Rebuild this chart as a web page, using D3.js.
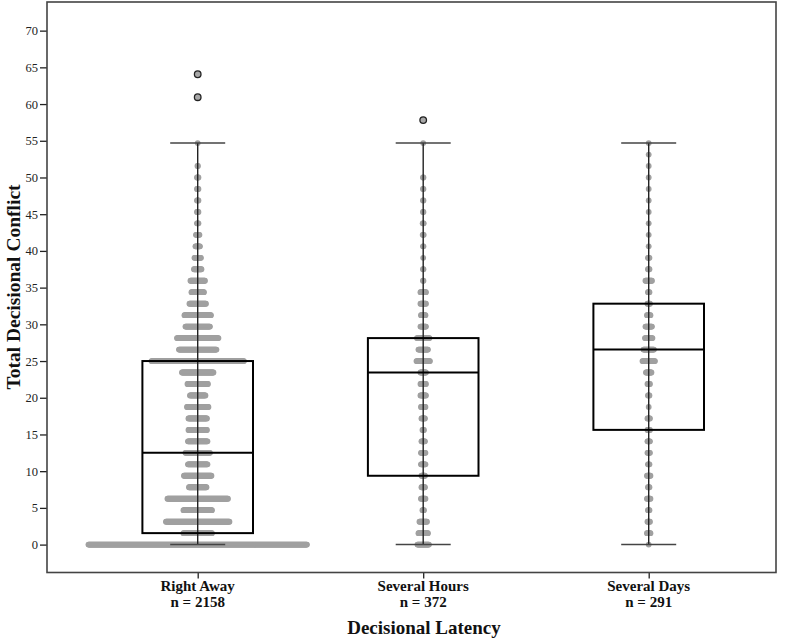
<!DOCTYPE html>
<html><head><meta charset="utf-8">
<script src="https://cdn.jsdelivr.net/npm/d3@7/dist/d3.min.js"></script>
<style>body{margin:0;background:#fff}svg{display:block}</style>
</head><body>
<svg id="c" width="800" height="642"></svg>
<script>
const categories = ["Right Away", "Several Hours", "Several Days"];
const nLabels = ["n = 2158", "n = 372", "n = 291"];
const yTicks = [0, 5, 10, 15, 20, 25, 30, 35, 40, 45, 50, 55, 60, 65, 70];
// score levels (steps of the scale)
const levels = [0, 1.5625, 3.125, 4.6875, 6.25, 7.8125, 9.375, 10.9375, 12.5, 14.0625,
  15.625, 17.1875, 18.75, 20.3125, 21.875, 23.4375, 25, 26.5625, 28.125, 29.6875,
  31.25, 32.8125, 34.375, 35.9375, 37.5, 39.0625, 40.625, 42.1875, 43.75, 45.3125,
  46.875, 48.4375, 50, 51.5625, 53.125, 54.6875];
// number of cases at each level
const countsRightAway = [438, 58, 128, 58, 122, 36, 56, 40, 50, 40, 38, 38, 44, 32, 42, 64, 186, 76, 84, 50,
  54, 34, 26, 30, 16, 14, 10, 8, 4, 4, 4, 4, 4, 2, 0, 1];
const countsSeveralHours = [24, 20, 16, 4, 10, 8, 8, 10, 10, 8, 4, 8, 10, 12, 12, 12, 28, 20, 26, 12,
  10, 12, 12, 2, 2, 1, 2, 3, 3, 2, 2, 2, 2, 0, 0, 1];
const countsSeveralDays = [1, 8, 6, 4, 8, 4, 8, 4, 6, 6, 6, 6, 1, 4, 6, 12, 26, 22, 16, 14,
  8, 6, 4, 14, 4, 4, 1, 1, 1, 1, 1, 1, 1, 1, 1, 1];
const q1 = [1.5625, 9.375, 15.625];
const medians = [12.5, 23.4375, 26.5625];
const q3 = [25, 28.125, 32.8125];
const whiskerLow = [0, 0, 0];
const whiskerHigh = [54.6875, 54.6875, 54.6875];
const outliers = [[60.9375, 64.0625], [57.8125], []];

(function () {
const counts = [countsRightAway, countsSeveralHours, countsSeveralDays];
const svg = d3.select("#c");
const serif = "'Liberation Serif','Times New Roman',serif";
const pLeft = 47, pRight = 776, pTop = 2, pBottom = 572.5;

const y = d3.scaleLinear().domain([-3.8, 73.9]).range([pBottom, pTop]);
const x = d3.scalePoint().domain(categories).range([197.7, 648.7]);

// y axis
const yAxis = svg.append("g").attr("transform", `translate(${pLeft},0)`)
  .call(d3.axisLeft(y).tickValues(yTicks).tickSize(7).tickPadding(2).tickFormat(d3.format("d")));
yAxis.select(".domain").remove();
yAxis.selectAll("line").attr("stroke", "#222").attr("stroke-width", 1.3);
yAxis.selectAll("text").attr("font-family", serif).attr("font-size", 12.5).attr("fill", "#222");

// x axis
const xAxis = svg.append("g").attr("transform", `translate(0,${pBottom})`)
  .call(d3.axisBottom(x).tickSize(6).tickFormat(""));
xAxis.select(".domain").remove();
xAxis.selectAll("line").attr("stroke", "#222").attr("stroke-width", 1.3);

// frame
svg.append("rect").attr("x", pLeft).attr("y", pTop).attr("width", pRight - pLeft).attr("height", pBottom - pTop)
  .attr("fill", "none").attr("stroke", "#444").attr("stroke-width", 1.6);

// dots
const step = 0.5, r = 2.9;
categories.forEach((c, i) => {
  const g = svg.append("g").attr("fill", "#a0a0a0");
  levels.forEach((v, k) => {
    const n = counts[i][k];
    for (let j = 0; j < n; j++) {
      g.append("circle")
        .attr("cx", x(c) + (j - (n - 1) / 2) * step)
        .attr("cy", y(v)).attr("r", r);
    }
  });
});

// boxplots
const bw = 55.3, cap = 27.5;
categories.forEach((c, i) => {
  const cx = x(c);
  const g = svg.append("g");
  g.append("line").attr("x1", cx).attr("x2", cx).attr("y1", y(whiskerLow[i])).attr("y2", y(whiskerHigh[i]))
    .attr("stroke", "#222").attr("stroke-width", 1.4);
  [whiskerLow[i], whiskerHigh[i]].forEach(v => {
    g.append("line").attr("x1", cx - cap).attr("x2", cx + cap).attr("y1", y(v)).attr("y2", y(v))
      .attr("stroke", "#444").attr("stroke-width", 1.5);
  });
  g.append("rect").attr("x", cx - bw).attr("width", 2 * bw)
    .attr("y", y(q3[i])).attr("height", y(q1[i]) - y(q3[i]))
    .attr("fill", "none").attr("stroke", "#000").attr("stroke-width", 2);
  g.append("line").attr("x1", cx - bw).attr("x2", cx + bw).attr("y1", y(medians[i])).attr("y2", y(medians[i]))
    .attr("stroke", "#000").attr("stroke-width", 2);
  outliers[i].forEach(v => {
    g.append("circle").attr("cx", cx).attr("cy", y(v)).attr("r", 3.3)
      .attr("fill", "#a8a8a8").attr("stroke", "#222").attr("stroke-width", 1.3);
  });
});

// category labels
categories.forEach((c, i) => {
  svg.append("text").attr("x", x(c)).attr("y", 591).attr("text-anchor", "middle")
    .attr("font-family", serif).attr("font-weight", "bold").attr("font-size", 15).attr("fill", "#111").text(c);
  svg.append("text").attr("x", x(c)).attr("y", 607).attr("text-anchor", "middle")
    .attr("font-family", serif).attr("font-weight", "bold").attr("font-size", 15).attr("fill", "#111").text(nLabels[i]);
});

svg.append("text").attr("x", 424).attr("y", 634).attr("text-anchor", "middle")
  .attr("font-family", serif).attr("font-weight", "bold").attr("font-size", 19).attr("fill", "#111")
  .text("Decisional Latency");
svg.append("text").attr("transform", "translate(20,287) rotate(-90)").attr("text-anchor", "middle")
  .attr("font-family", serif).attr("font-weight", "bold").attr("font-size", 19.5).attr("fill", "#111")
  .text("Total Decisional Conflict");
})();
</script>
</body></html>
